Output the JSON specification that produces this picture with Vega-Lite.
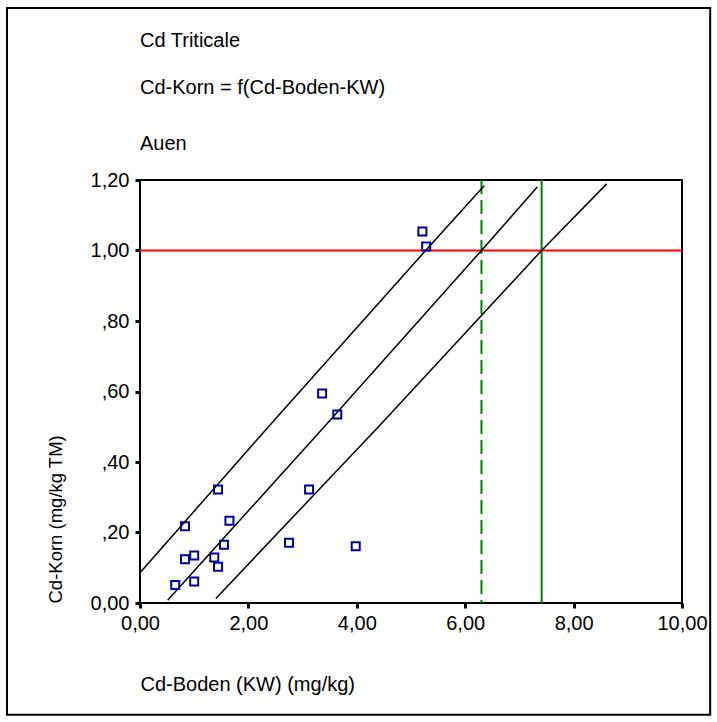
{
  "$schema": "https://vega.github.io/schema/vega-lite/v6.json",
  "autosize": "none",
  "width": 542,
  "height": 423,
  "padding": {"left": 140, "top": 180, "right": 35, "bottom": 119},
  "background": "white",
  "config": {
    "font": "Liberation Sans",
    "view": {"stroke": "black", "strokeWidth": 2},
    "axis": {
      "grid": false,
      "domain": false,
      "tickColor": "black",
      "tickSize": 5,
      "tickWidth": 3,
      "labelFont": "Liberation Sans",
      "labelFontSize": 20,
      "labelColor": "black",
      "labelFlush": false,
      "labelOverlap": false,
      "titleFont": "Liberation Sans",
      "titleFontSize": 20,
      "titleFontWeight": "normal",
      "titleColor": "black"
    },
    "title": {"font": "Liberation Sans", "fontSize": 20, "fontWeight": "normal", "color": "black", "subtitleFont": "Liberation Sans", "subtitleFontSize": 20, "subtitleColor": "black"}
  },
  "title": {
    "text": ["Cd Triticale", "Cd-Korn = f(Cd-Boden-KW)"],
    "subtitle": "Auen",
    "anchor": "start",
    "frame": "group",
    "lineHeight": 47,
    "subtitlePadding": 36,
    "offset": -147
  },
  "datasets": {
    "points": [
      {"boden": 3.36, "korn": 0.594},
      {"boden": 3.64, "korn": 0.535},
      {"boden": 1.44, "korn": 0.322},
      {"boden": 3.12, "korn": 0.322},
      {"boden": 0.83, "korn": 0.218},
      {"boden": 1.65, "korn": 0.233},
      {"boden": 1.55, "korn": 0.165},
      {"boden": 2.75, "korn": 0.171},
      {"boden": 3.98, "korn": 0.161},
      {"boden": 0.83, "korn": 0.124},
      {"boden": 1.0, "korn": 0.135},
      {"boden": 1.37, "korn": 0.129},
      {"boden": 1.44, "korn": 0.103},
      {"boden": 0.65, "korn": 0.051},
      {"boden": 1.0, "korn": 0.061},
      {"boden": 5.21, "korn": 1.054},
      {"boden": 5.28, "korn": 1.011}
    ],
    "lines": [
      {"series": "fit", "boden": 0.51, "korn": 0.008},
      {"series": "fit", "boden": 3.4, "korn": 0.5},
      {"series": "fit", "boden": 6.3, "korn": 1.0},
      {"series": "fit", "boden": 7.33, "korn": 1.18},
      {"series": "upper", "boden": 0.0, "korn": 0.086},
      {"series": "upper", "boden": 2.6, "korn": 0.54},
      {"series": "upper", "boden": 5.27, "korn": 1.0},
      {"series": "upper", "boden": 6.35, "korn": 1.184},
      {"series": "lower", "boden": 1.4, "korn": 0.013},
      {"series": "lower", "boden": 4.4, "korn": 0.5},
      {"series": "lower", "boden": 7.41, "korn": 1.0},
      {"series": "lower", "boden": 8.61, "korn": 1.189}
    ],
    "limits": [
      {"kind": "solid", "boden": 7.41},
      {"kind": "dashed", "boden": 6.3}
    ],
    "threshold": [{"korn": 1.0}],
    "frame": [{"x1": -2.454, "x2": 10.52, "y1": -0.317, "y2": 1.688}]
  },
  "layer": [
    {
      "data": {"name": "threshold"},
      "mark": {"type": "rule", "color": "#ff0000", "strokeWidth": 2},
      "encoding": {
        "y": {"field": "korn", "type": "quantitative", "scale": {"domain": [0, 1.2], "nice": false, "zero": false},
          "axis": {"values": [0, 0.2, 0.4, 0.6, 0.8, 1.0, 1.2], "labelExpr": "datum.value > 0 && datum.value < 1 ? replace(format(datum.value, '.2f'), '0.', ',') : replace(format(datum.value, '.2f'), '.', ',')", "labelPadding": 6, "title": "Cd-Korn (mg/kg TM)", "titleFontSize": 18.5, "titleAnchor": "start", "titlePadding": 25}}
      }
    },
    {
      "data": {"name": "limits"},
      "mark": {"type": "rule", "color": "#008000", "strokeWidth": 2},
      "encoding": {
        "x": {"field": "boden", "type": "quantitative", "scale": {"domain": [0, 10], "nice": false, "zero": false},
          "axis": {"values": [0, 2, 4, 6, 8, 10], "labelExpr": "replace(format(datum.value, '.2f'), '.', ',')", "labelPadding": 5, "title": "Cd-Boden (KW) (mg/kg)", "titleAnchor": "start", "titlePadding": 41}},
        "strokeDash": {"field": "kind", "type": "nominal", "scale": {"domain": ["solid", "dashed"], "range": [[1, 0], [14, 6]]}, "legend": null}
      }
    },
    {
      "data": {"name": "lines"},
      "mark": {"type": "line", "color": "black", "strokeWidth": 1.5},
      "encoding": {
        "x": {"field": "boden", "type": "quantitative"},
        "y": {"field": "korn", "type": "quantitative"},
        "detail": {"field": "series", "type": "nominal"}
      }
    },
    {
      "data": {"name": "points"},
      "mark": {"type": "point", "shape": "square", "filled": false, "color": "#000099", "strokeWidth": 2, "size": 64, "opacity": 1},
      "encoding": {
        "x": {"field": "boden", "type": "quantitative"},
        "y": {"field": "korn", "type": "quantitative"}
      }
    },
    {
      "data": {"name": "frame"},
      "mark": {"type": "rect", "fill": null, "stroke": "black", "strokeWidth": 2, "clip": false},
      "encoding": {
        "x": {"field": "x1", "type": "quantitative"},
        "x2": {"field": "x2"},
        "y": {"field": "y1", "type": "quantitative"},
        "y2": {"field": "y2"}
      }
    }
  ]
}
